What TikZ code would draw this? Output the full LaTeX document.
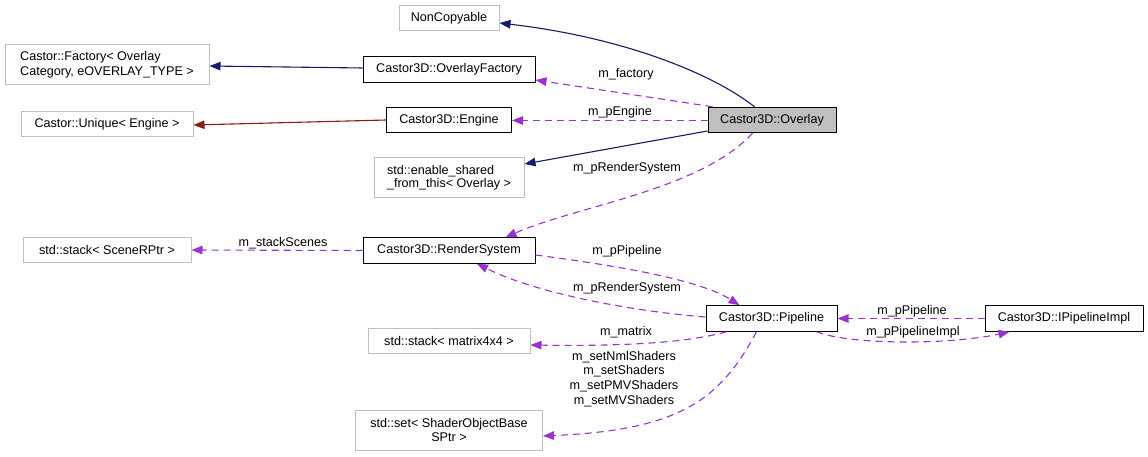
\documentclass[tikz,border=0pt]{standalone}
\usepackage{fontspec}
\setmainfont{Liberation Sans}
\usepackage{xcolor}
\usepackage{tikz}
\usetikzlibrary{arrows.meta}

\definecolor{refpurple}{HTML}{9A32CD}
\definecolor{basenavy}{HTML}{191970}
\definecolor{basered}{HTML}{8B1A1A}
\definecolor{boxgray}{HTML}{BFBFBF}

\tikzset{
  cls/.style={draw=black, line width=1pt, minimum height=25.5pt, inner xsep=0pt,
    font=\fontsize{12.6}{14.6}\selectfont},
  ext/.style={cls, draw=boxgray},
  main/.style={cls, fill=boxgray},
  lbl/.style={inner sep=0pt, font=\fontsize{12.6}{14.6}\selectfont},
  tip/.style={-{Triangle[length=11pt,width=8.5pt]}},
  inherit/.style={tip, draw=basenavy, line width=1.1pt},
  privinherit/.style={tip, draw=basered, line width=1.1pt},
  member/.style={tip, draw=refpurple, line width=1.1pt, dash pattern=on 7pt off 5pt}
}

\begin{document}
\begin{tikzpicture}[x=1pt, y=-1pt]
        \useasboundingbox[fill=white] (0,0) rectangle (1148,457);

        \node[ext, minimum width=100pt] (noncopy) at (449,18) {NonCopyable};
        \node[ext, minimum width=204pt, minimum height=40pt, align=left, font=\fontsize{12.6}{14.8}\selectfont] (factory) at (107,65) {Castor::Factory< Overlay\\Category, eOVERLAY\_TYPE >};
        \node[cls, minimum width=172pt] (ofactory) at (449,69.5) {Castor3D::OverlayFactory};
        \node[ext, minimum width=172pt] (unique) at (107,124) {Castor::Unique< Engine >};
        \node[cls, minimum width=125pt] (engine) at (449,120) {Castor3D::Engine};
        \node[main, minimum width=128pt] (overlay) at (772,120) {Castor3D::Overlay};
        \node[ext, minimum width=150pt, minimum height=40pt, align=left, font=\fontsize{12.6}{13.4}\selectfont] (shared) at (449,178) {std::enable\_shared\\\_from\_this< Overlay >};
        \node[ext, minimum width=168pt] (scenes) at (107,250) {std::stack< SceneRPtr >};
        \node[cls, minimum width=172pt] (rsys) at (449,250.5) {Castor3D::RenderSystem};
        \node[cls, minimum width=131pt] (pipeline) at (771.5,318.5) {Castor3D::Pipeline};
        \node[cls, minimum width=158pt] (pimpl) at (1064,318.5) {Castor3D::IPipelineImpl};
        \node[ext, minimum width=162pt] (matrix) at (449,341) {std::stack< matrix4x4 >};
        \node[ext, minimum width=187pt, minimum height=40pt, align=center, font=\fontsize{12.6}{13.8}\selectfont] (shaders) at (449,430) {std::set< ShaderObjectBase\\SPtr >};

        \draw[inherit] ([xshift=47pt]overlay.north west) .. controls (710,72) and (620,37) .. ([yshift=-5pt]noncopy.east);
        \draw[inherit] ([yshift=1.5pt]ofactory.west) -- ([yshift=-1pt]factory.east);
        \draw[privinherit] (engine.west) -- ([yshift=-1pt]unique.east);
        \draw[inherit] ([yshift=-11pt]overlay.west) -- ([yshift=14pt]shared.east);

        \draw[member] ([xshift=5pt]overlay.north west) -- ([yshift=-10.5pt]ofactory.east);
        \draw[member] ([yshift=-0.5pt]overlay.west) -- ([yshift=-0.5pt]engine.east);
        \draw[member] ([xshift=45pt]overlay.south west) .. controls (700,190) and (580,205) .. ([xshift=-30pt]rsys.north east);
        \draw[member] (rsys.west) -- (scenes.east);
        \draw[member] ([yshift=-4.5pt]rsys.east) .. controls (620,266) and (700,280) .. ([xshift=34pt]pipeline.north west);
        \draw[member] ([yshift=1.5pt]pipeline.west) .. controls (640,312) and (540,295) .. ([xshift=28pt]rsys.south);
        \draw[member] ([xshift=21pt]pipeline.south west) .. controls (680,345) and (600,346) .. ([yshift=-4pt]matrix.east);
        \draw[member] ([xshift=51pt]pipeline.south west) .. controls (720,400) and (680,430) .. ([yshift=-6pt]shaders.east);
        \draw[member] (pimpl.west) -- (pipeline.east);
        \draw[member] ([xshift=111pt]pipeline.south west) .. controls (850,345) and (950,345) .. ([xshift=25pt]pimpl.south west);

        \node[lbl] (l-factory) at (626,74) {m\_factory};
        \node[lbl] (l-engine) at (620,112) {m\_pEngine};
        \node[lbl] (l-rsys) at (627,168) {m\_pRenderSystem};
        \node[lbl] (l-scenes) at (283,243) {m\_stackScenes};
        \node[lbl] (l-pipeline) at (627,251) {m\_pPipeline};
        \node[lbl] (l-rsysback) at (627,288) {m\_pRenderSystem};
        \node[lbl] (l-matrix) at (626,332) {m\_matrix};
        \node[lbl, align=center, font=\fontsize{12.6}{14.7}\selectfont] (l-shaders) at (624,379) {m\_setNmlShaders\\m\_setShaders\\m\_setPMVShaders\\m\_setMVShaders};
        \node[lbl] (l-pimplback) at (912,311) {m\_pPipeline};
        \node[lbl] (l-pimpl) at (913,332) {m\_pPipelineImpl};
    \end{tikzpicture}
\end{document}
